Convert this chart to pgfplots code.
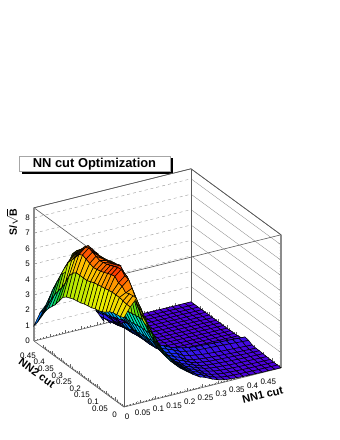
\documentclass[border=0pt]{standalone}
\usepackage{fontspec}
\setmainfont{Liberation Sans}
\usepackage{pgfplots}
\pgfplotsset{compat=1.18}
\begin{document}
\begin{tikzpicture}
\path[use as bounding box] (0pt,0pt) rectangle (340pt,440pt);
% title box with shadow
\fill[black] (22pt,266pt) rectangle (172.5pt,282pt);
\draw[gray!70,fill=white,line width=1pt] (19.5pt,268.5pt) rectangle (170.5pt,283.5pt);
\node[font=\fontsize{12.9}{14}\selectfont\bfseries] at (94.5pt,276pt) {NN cut Optimization};
\begin{axis}[
 at={(124pt,33pt)},anchor=origin,clip=false,
 x={(314pt,78pt)},y={(-180pt,132pt)},z={(0pt,15.4pt)},
 xmin=0,xmax=0.5,ymin=0,ymax=0.5,zmin=0,zmax=8.65,
 colormap={rootpal}{rgb255=(80,0,220) rgb255=(30,40,250) rgb255=(0,130,255) rgb255=(0,215,240) rgb255=(0,235,170) rgb255=(30,215,30) rgb255=(150,228,0) rgb255=(235,240,0) rgb255=(255,190,0) rgb255=(255,60,0) rgb255=(220,0,0)},
 point meta min=0,point meta max=8.2,
 xtick={0,0.05,0.1,0.15,0.2,0.25,0.3,0.35,0.4,0.45},
 ytick={0,0.05,0.1,0.15,0.2,0.25,0.3,0.35,0.4,0.45},
 ztick={0,1,2,3,4,5,6,7,8},
 minor x tick num=4,minor y tick num=4,minor z tick num=4,
 scaled ticks=false,
 xticklabel style={/pgf/number format/fixed,/pgf/number format/precision=2,anchor=center,inner sep=0pt,xshift=3pt,yshift=-10pt},
 yticklabel style={/pgf/number format/fixed,/pgf/number format/precision=2,anchor=east,inner sep=0pt,xshift=-7pt,yshift=-8pt},
 zticklabel style={anchor=east,inner sep=0pt,xshift=-4pt},
 /pgf/number format/assume math mode=true,
 tick label style={font=\fontsize{8}{9}\selectfont},
 xtick pos=left,ytick pos=left,ztick pos=left,
 tick align=inside,major tick length=3pt,minor tick length=1.5pt,
 tick style={black!60,line width=0.3pt},
 axis line style={black!65,line width=0.6pt},
]
\pgfplotsinvokeforeach{1,2,3,4,5,6,7,8}{
 \draw[black!40,dashed,line width=0.4pt] (axis cs:0,0.5,#1) -- (axis cs:0.5,0.5,#1);
 \draw[black!45,line width=0.35pt] (axis cs:0.5,0.5,#1) -- (axis cs:0.5,0,#1);
}
\draw[black!65,line width=0.6pt] (axis cs:0,0.5,8.65) -- (axis cs:0.5,0.5,8.65) -- (axis cs:0.5,0,8.65) -- (axis cs:0,0,8.65) -- cycle;
\draw[black!65,line width=0.6pt] (axis cs:0,0,0) -- (axis cs:0,0,8.65);
\draw[black!65,line width=0.6pt] (axis cs:0.5,0.5,0) -- (axis cs:0.5,0.5,8.65);
\draw[black!45,line width=1.4pt] (axis cs:0.5,0,0) -- (axis cs:0.5,0,8.65);
\draw[black!45,line width=1.4pt] (axis cs:0,0.5,0) -- (axis cs:0,0.5,8.65);
\addplot3[surf,shader=faceted,faceted color=black,line width=0.55pt,z buffer=sort,mesh/ordering=y varies,mesh/rows=26,mesh/cols=26] coordinates {
(0,0,5.8)(0,.02,5.7)(0,.04,5.65)(0,.06,5.6)(0,.08,5.5)(0,.1,5.3)(0,.12,5.15)(0,.14,5.05)(0,.16,5)(0,.18,4.9)(0,.2,4.85)(0,.22,4.8)(0,.24,4.7)(0,.26,4.65)(0,.28,4.6)(0,.3,4.5)(0,.32,4.4)(0,.34,4.2)(0,.36,3.8)(0,.38,3.4)(0,.4,3.1)(0,.42,2.8)(0,.44,2.4)(0,.46,1.9)(0,.48,1.4)(0,.5,1)
(.02,0,6.4)(.02,.02,6.4)(.02,.04,6.45)(.02,.06,6.5)(.02,.08,6.5)(.02,.1,6.5)(.02,.12,6.45)(.02,.14,6.4)(.02,.16,6.35)(.02,.18,6.3)(.02,.2,6.25)(.02,.22,6.15)(.02,.24,6.05)(.02,.26,6.05)(.02,.28,6.05)(.02,.3,6.05)(.02,.32,5.85)(.02,.34,5.5)(.02,.36,4.9)(.02,.38,4.4)(.02,.4,4)(.02,.42,3.6)(.02,.44,3.1)(.02,.46,2.6)(.02,.48,2.1)(.02,.5,1.75)
(.04,0,6.85)(.04,.02,6.85)(.04,.04,6.8)(.04,.06,6.7)(.04,.08,6.95)(.04,.1,7)(.04,.12,7.25)(.04,.14,7.2)(.04,.16,7.1)(.04,.18,7)(.04,.2,6.9)(.04,.22,6.85)(.04,.24,6.8)(.04,.26,6.9)(.04,.28,7)(.04,.3,7.1)(.04,.32,6.95)(.04,.34,6.6)(.04,.36,6.25)(.04,.38,5.95)(.04,.4,5.4)(.04,.42,4.8)(.04,.44,4.2)(.04,.46,3.6)(.04,.48,2.9)(.04,.5,2.2)
(.06,0,5.3)(.06,.02,5.8)(.06,.04,6.4)(.06,.06,6.9)(.06,.08,7.3)(.06,.1,7.35)(.06,.12,7.6)(.06,.14,7.55)(.06,.16,7.45)(.06,.18,7.35)(.06,.2,7.25)(.06,.22,7.2)(.06,.24,7.15)(.06,.26,7.25)(.06,.28,7.35)(.06,.3,7.45)(.06,.32,7.3)(.06,.34,6.95)(.06,.36,6.6)(.06,.38,6.3)(.06,.4,5.9)(.06,.42,4.9)(.06,.44,4.4)(.06,.46,3.9)(.06,.48,3.4)(.06,.5,3)
(.08,0,4.6)(.08,.02,5)(.08,.04,5.4)(.08,.06,5.7)(.08,.08,6)(.08,.1,6.4)(.08,.12,7)(.08,.14,7.1)(.08,.16,7.4)(.08,.18,7.3)(.08,.2,7.2)(.08,.22,7.1)(.08,.24,7.05)(.08,.26,7)(.08,.28,7)(.08,.3,7)(.08,.32,7.15)(.08,.34,7.15)(.08,.36,6.9)(.08,.38,6.55)(.08,.4,6.2)(.08,.42,5.9)(.08,.44,5.35)(.08,.46,4.45)(.08,.48,4)(.08,.5,3.5)
(.1,0,4)(.1,.02,4.2)(.1,.04,4.5)(.1,.06,4.8)(.1,.08,5.2)(.1,.1,5.5)(.1,.12,5.9)(.1,.14,6)(.1,.16,6.5)(.1,.18,6.8)(.1,.2,7)(.1,.22,6.9)(.1,.24,6.8)(.1,.26,6.75)(.1,.28,6.65)(.1,.3,6.6)(.1,.32,6.65)(.1,.34,6.65)(.1,.36,6.65)(.1,.38,6.6)(.1,.4,6.35)(.1,.42,6.1)(.1,.44,5.85)(.1,.46,5.5)(.1,.48,4.8)(.1,.5,4.05)
(.12,0,3.2)(.12,.02,3.3)(.12,.04,3.4)(.12,.06,3.5)(.12,.08,3.9)(.12,.1,4.3)(.12,.12,4.8)(.12,.14,5.1)(.12,.16,5.3)(.12,.18,5.5)(.12,.2,6)(.12,.22,6.3)(.12,.24,6.5)(.12,.26,6.5)(.12,.28,6.45)(.12,.3,6.35)(.12,.32,6.3)(.12,.34,6.2)(.12,.36,6.3)(.12,.38,6.2)(.12,.4,6.2)(.12,.42,6.05)(.12,.44,5.9)(.12,.46,5.6)(.12,.48,5.3)(.12,.5,4.9)
(.14,0,2.6)(.14,.02,2.6)(.14,.04,2.7)(.14,.06,2.8)(.14,.08,3)(.14,.1,3.3)(.14,.12,3.6)(.14,.14,3.75)(.14,.16,3.75)(.14,.18,3.7)(.14,.2,3.65)(.14,.22,3.6)(.14,.24,3.55)(.14,.26,3.55)(.14,.28,3.6)(.14,.3,3.65)(.14,.32,3.5)(.14,.34,3.35)(.14,.36,3.15)(.14,.38,3)(.14,.4,3)(.14,.42,2.9)(.14,.44,3)(.14,.46,3.3)(.14,.48,4)(.14,.5,4.6)
(.16,0,2)(.16,.02,2)(.16,.04,2.05)(.16,.06,2.1)(.16,.08,2.3)(.16,.1,2.5)(.16,.12,2.7)(.16,.14,2.8)(.16,.16,2.8)(.16,.18,2.8)(.16,.2,2.75)(.16,.22,2.7)(.16,.24,2.65)(.16,.26,2.65)(.16,.28,2.7)(.16,.3,2.75)(.16,.32,2.65)(.16,.34,2.5)(.16,.36,2.4)(.16,.38,2.25)(.16,.4,2.1)(.16,.42,1.9)(.16,.44,1.9)(.16,.46,2.2)(.16,.48,2.9)(.16,.5,3.4)
(.18,0,1.6)(.18,.02,1.6)(.18,.04,1.65)(.18,.06,1.7)(.18,.08,1.75)(.18,.1,1.8)(.18,.12,1.9)(.18,.14,2)(.18,.16,2.05)(.18,.18,2)(.18,.2,2)(.18,.22,1.95)(.18,.24,1.9)(.18,.26,1.9)(.18,.28,1.95)(.18,.3,2)(.18,.32,1.9)(.18,.34,1.8)(.18,.36,1.7)(.18,.38,1.65)(.18,.4,1.55)(.18,.42,1.4)(.18,.44,1.3)(.18,.46,1.5)(.18,.48,1.9)(.18,.5,2)
(.2,0,1.3)(.2,.02,1.3)(.2,.04,1.3)(.2,.06,1.3)(.2,.08,1.3)(.2,.1,1.3)(.2,.12,1.3)(.2,.14,1.35)(.2,.16,1.4)(.2,.18,1.4)(.2,.2,1.4)(.2,.22,1.4)(.2,.24,1.35)(.2,.26,1.35)(.2,.28,1.4)(.2,.3,1.4)(.2,.32,1.3)(.2,.34,1.25)(.2,.36,1.2)(.2,.38,1.15)(.2,.4,1.05)(.2,.42,.95)(.2,.44,.85)(.2,.46,.85)(.2,.48,.9)(.2,.5,.9)
(.22,0,1)(.22,.02,1)(.22,.04,1)(.22,.06,1)(.22,.08,1)(.22,.1,1)(.22,.12,1)(.22,.14,1.05)(.22,.16,1.1)(.22,.18,1.15)(.22,.2,1.15)(.22,.22,1)(.22,.24,.9)(.22,.26,.9)(.22,.28,.9)(.22,.3,.9)(.22,.32,.85)(.22,.34,.8)(.22,.36,.8)(.22,.38,.75)(.22,.4,.7)(.22,.42,.6)(.22,.44,.55)(.22,.46,.5)(.22,.48,.45)(.22,.5,.4)
(.24,0,.75)(.24,.02,.75)(.24,.04,.75)(.24,.06,.75)(.24,.08,.75)(.24,.1,.75)(.24,.12,.8)(.24,.14,.85)(.24,.16,.9)(.24,.18,1)(.24,.2,1.05)(.24,.22,.8)(.24,.24,.55)(.24,.26,.55)(.24,.28,.55)(.24,.3,.55)(.24,.32,.5)(.24,.34,.5)(.24,.36,.45)(.24,.38,.4)(.24,.4,.4)(.24,.42,.35)(.24,.44,.3)(.24,.46,.25)(.24,.48,.2)(.24,.5,.2)
(.26,0,.6)(.26,.02,.6)(.26,.04,.6)(.26,.06,.6)(.26,.08,.6)(.26,.1,.6)(.26,.12,.65)(.26,.14,.7)(.26,.16,.8)(.26,.18,.85)(.26,.2,.85)(.26,.22,.55)(.26,.24,.3)(.26,.26,.3)(.26,.28,.3)(.26,.3,.3)(.26,.32,.3)(.26,.34,.25)(.26,.36,.25)(.26,.38,.2)(.26,.4,.2)(.26,.42,.15)(.26,.44,.15)(.26,.46,.1)(.26,.48,.1)(.26,.5,.1)
(.28,0,.4)(.28,.02,.4)(.28,.04,.4)(.28,.06,.4)(.28,.08,.45)(.28,.1,.45)(.28,.12,.45)(.28,.14,.45)(.28,.16,.55)(.28,.18,.65)(.28,.2,.7)(.28,.22,.4)(.28,.24,.2)(.28,.26,.15)(.28,.28,.15)(.28,.3,.15)(.28,.32,.15)(.28,.34,.1)(.28,.36,.1)(.28,.38,.1)(.28,.4,.1)(.28,.42,.1)(.28,.44,.05)(.28,.46,.05)(.28,.48,.05)(.28,.5,.05)
(.3,0,.25)(.3,.02,.25)(.3,.04,.25)(.3,.06,.3)(.3,.08,.3)(.3,.1,.3)(.3,.12,.33)(.3,.14,.35)(.3,.16,.45)(.3,.18,.55)(.3,.2,.6)(.3,.22,.3)(.3,.24,.12)(.3,.26,.08)(.3,.28,.08)(.3,.3,.08)(.3,.32,.07)(.3,.34,.07)(.3,.36,.06)(.3,.38,.06)(.3,.4,.05)(.3,.42,.05)(.3,.44,.05)(.3,.46,.04)(.3,.48,.04)(.3,.5,.03)
(.32,0,.15)(.32,.02,.15)(.32,.04,.18)(.32,.06,.2)(.32,.08,.22)(.32,.1,.24)(.32,.12,.27)(.32,.14,.3)(.32,.16,.38)(.32,.18,.48)(.32,.2,.52)(.32,.22,.25)(.32,.24,.1)(.32,.26,.06)(.32,.28,.06)(.32,.3,.06)(.32,.32,.05)(.32,.34,.05)(.32,.36,.05)(.32,.38,.05)(.32,.4,.04)(.32,.42,.04)(.32,.44,.04)(.32,.46,.03)(.32,.48,.03)(.32,.5,.03)
(.34,0,.1)(.34,.02,.1)(.34,.04,.12)(.34,.06,.15)(.34,.08,.18)(.34,.1,.2)(.34,.12,.22)(.34,.14,.25)(.34,.16,.32)(.34,.18,.45)(.34,.2,.48)(.34,.22,.2)(.34,.24,.08)(.34,.26,.05)(.34,.28,.05)(.34,.3,.05)(.34,.32,.05)(.34,.34,.04)(.34,.36,.04)(.34,.38,.04)(.34,.4,.04)(.34,.42,.03)(.34,.44,.03)(.34,.46,.03)(.34,.48,.03)(.34,.5,.02)
(.36,0,.08)(.36,.02,.08)(.36,.04,.1)(.36,.06,.12)(.36,.08,.15)(.36,.1,.18)(.36,.12,.2)(.36,.14,.22)(.36,.16,.28)(.36,.18,.42)(.36,.2,.45)(.36,.22,.18)(.36,.24,.07)(.36,.26,.05)(.36,.28,.04)(.36,.3,.04)(.36,.32,.04)(.36,.34,.04)(.36,.36,.04)(.36,.38,.03)(.36,.4,.03)(.36,.42,.03)(.36,.44,.03)(.36,.46,.03)(.36,.48,.02)(.36,.5,.02)
(.38,0,.06)(.38,.02,.06)(.38,.04,.08)(.38,.06,.1)(.38,.08,.12)(.38,.1,.15)(.38,.12,.18)(.38,.14,.2)(.38,.16,.25)(.38,.18,.4)(.38,.2,.42)(.38,.22,.16)(.38,.24,.06)(.38,.26,.04)(.38,.28,.04)(.38,.3,.04)(.38,.32,.04)(.38,.34,.03)(.38,.36,.03)(.38,.38,.03)(.38,.4,.03)(.38,.42,.03)(.38,.44,.02)(.38,.46,.02)(.38,.48,.02)(.38,.5,.02)
(.4,0,.05)(.4,.02,.05)(.4,.04,.06)(.4,.06,.08)(.4,.08,.1)(.4,.1,.13)(.4,.12,.16)(.4,.14,.18)(.4,.16,.22)(.4,.18,.38)(.4,.2,.4)(.4,.22,.14)(.4,.24,.05)(.4,.26,.04)(.4,.28,.03)(.4,.3,.03)(.4,.32,.03)(.4,.34,.03)(.4,.36,.03)(.4,.38,.03)(.4,.4,.03)(.4,.42,.02)(.4,.44,.02)(.4,.46,.02)(.4,.48,.02)(.4,.5,.02)
(.42,0,.04)(.42,.02,.04)(.42,.04,.05)(.42,.06,.07)(.42,.08,.09)(.42,.1,.11)(.42,.12,.14)(.42,.14,.15)(.42,.16,.2)(.42,.18,.35)(.42,.2,.38)(.42,.22,.12)(.42,.24,.05)(.42,.26,.03)(.42,.28,.03)(.42,.3,.03)(.42,.32,.03)(.42,.34,.03)(.42,.36,.02)(.42,.38,.02)(.42,.4,.02)(.42,.42,.02)(.42,.44,.02)(.42,.46,.02)(.42,.48,.02)(.42,.5,.01)
(.44,0,.03)(.44,.02,.03)(.44,.04,.04)(.44,.06,.06)(.44,.08,.08)(.44,.1,.1)(.44,.12,.12)(.44,.14,.13)(.44,.16,.18)(.44,.18,.33)(.44,.2,.36)(.44,.22,.11)(.44,.24,.04)(.44,.26,.03)(.44,.28,.03)(.44,.3,.02)(.44,.32,.02)(.44,.34,.02)(.44,.36,.02)(.44,.38,.02)(.44,.4,.02)(.44,.42,.02)(.44,.44,.02)(.44,.46,.01)(.44,.48,.01)(.44,.5,.01)
(.46,0,.03)(.46,.02,.03)(.46,.04,.04)(.46,.06,.05)(.46,.08,.07)(.46,.1,.09)(.46,.12,.11)(.46,.14,.12)(.46,.16,.16)(.46,.18,.3)(.46,.2,.34)(.46,.22,.1)(.46,.24,.04)(.46,.26,.03)(.46,.28,.02)(.46,.3,.02)(.46,.32,.02)(.46,.34,.02)(.46,.36,.02)(.46,.38,.02)(.46,.4,.02)(.46,.42,.01)(.46,.44,.01)(.46,.46,.01)(.46,.48,.01)(.46,.5,.01)
(.48,0,.02)(.48,.02,.02)(.48,.04,.03)(.48,.06,.04)(.48,.08,.06)(.48,.1,.08)(.48,.12,.1)(.48,.14,.1)(.48,.16,.14)(.48,.18,.27)(.48,.2,.32)(.48,.22,.09)(.48,.24,.03)(.48,.26,.02)(.48,.28,.02)(.48,.3,.02)(.48,.32,.02)(.48,.34,.02)(.48,.36,.01)(.48,.38,.01)(.48,.4,.01)(.48,.42,.01)(.48,.44,.01)(.48,.46,.01)(.48,.48,.01)(.48,.5,.01)
(.5,0,.02)(.5,.02,.02)(.5,.04,.03)(.5,.06,.04)(.5,.08,.05)(.5,.1,.07)(.5,.12,.09)(.5,.14,.09)(.5,.16,.12)(.5,.18,.25)(.5,.2,.3)(.5,.22,.08)(.5,.24,.03)(.5,.26,.02)(.5,.28,.02)(.5,.3,.01)(.5,.32,.01)(.5,.34,.01)(.5,.36,.01)(.5,.38,.01)(.5,.4,.01)(.5,.42,.01)(.5,.44,.01)(.5,.46,.01)(.5,.48,.01)(.5,.5,.01)
};
% far edge of the sheet, seen under the near edge of the hump
\addplot3[surf,shader=faceted,faceted color=black,line width=0.55pt,mesh/ordering=y varies,mesh/rows=5,mesh/cols=3] coordinates {
(.2,.46,.6)(.2,.48,.75)(.2,.5,.9)
(.22,.46,.4)(.22,.48,.55)(.22,.5,.7)
(.24,.46,.25)(.24,.48,.32)(.24,.5,.4)
(.26,.46,.1)(.26,.48,.15)(.26,.5,.2)
(.28,.46,.05)(.28,.48,.03)(.28,.5,.02)
};
\end{axis}
\node[font=\fontsize{11}{12}\selectfont\bfseries,rotate=14] at (262.7pt,45pt) {NN1 cut};
\node[font=\fontsize{11}{12}\selectfont\bfseries,rotate=-36] at (37pt,67pt) {NN2 cut};
\node[font=\fontsize{10.5}{11}\selectfont\bfseries,rotate=90] at (12.5pt,218pt) {S/$\sqrt{\mathbf{B}}$};
\end{tikzpicture}
\end{document}
